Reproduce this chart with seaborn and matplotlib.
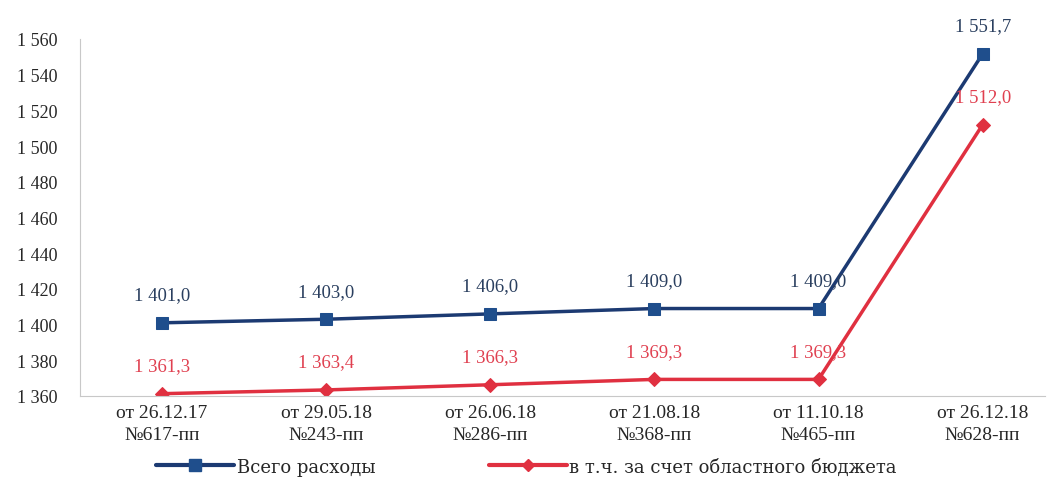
import matplotlib
matplotlib.use("Agg")
import matplotlib.pyplot as plt
import seaborn as sns
import pandas as pd

categories = ["от 26.12.17\n№617-пп", "от 29.05.18\n№243-пп", "от 26.06.18\n№286-пп",
              "от 21.08.18\n№368-пп", "от 11.10.18\n№465-пп", "от 26.12.18\n№628-пп"]
total = [1401.0, 1403.0, 1406.0, 1409.0, 1409.0, 1551.7]
regional = [1361.3, 1363.4, 1366.3, 1369.3, 1369.3, 1512.0]
series_names = ["Всего расходы", "в т.ч. за счет областного бюджета"]
yticks = [1360, 1380, 1400, 1420, 1440, 1460, 1480, 1500, 1520, 1540, 1560]

sns.set_style("white")
plt.rcParams['font.family'] = ['Liberation Serif', 'DejaVu Serif']

df = pd.DataFrame({
    "x": list(range(len(categories))) * 2,
    "value": total + regional,
    "series": [series_names[0]] * len(total) + [series_names[1]] * len(regional),
})

blue = "#1c3a72"
red = "#e03040"
fig = plt.figure(figsize=(10.51, 4.81), dpi=100)
ax = fig.add_axes([80 / 1051, 1 - 397 / 481, 965 / 1051, 357 / 481])
sns.lineplot(data=df, x="x", y="value", hue="series", style="series",
             markers={series_names[0]: "s", series_names[1]: "D"}, dashes=False,
             palette={series_names[0]: blue, series_names[1]: red},
             linewidth=2.5, markersize=9, ax=ax, legend=False)
for line, mc in zip(ax.lines, ["#1f4e8c", red]):
    line.set_markerfacecolor(mc)
    line.set_markeredgecolor(mc)
ax.lines[1].set_markersize(7)

def fmt(v):
    s = f"{v:,.1f}".replace(",", " ").replace(".", ",")
    return s

for i, v in enumerate(total):
    ax.annotate(fmt(v), (i, v), xytext=(0, 14), textcoords="offset points",
                ha="center", va="bottom", fontsize=13.5, color="#2a3f5f")
for i, v in enumerate(regional):
    ax.annotate(fmt(v), (i, v), xytext=(0, 14), textcoords="offset points",
                ha="center", va="bottom", fontsize=13.5, color="#e04050")

ax.set_xlim(-0.5, 5.38)
ax.set_ylim(1360, 1560)
ax.set_yticks(yticks)
ax.set_yticklabels([f"{t:,}".replace(",", " ") for t in yticks], fontsize=13)
ax.set_xticks(range(len(categories)))
ax.set_xticklabels(categories, fontsize=14, linespacing=1.35)
ax.set_xlabel("")
ax.set_ylabel("")
ax.tick_params(axis="y", length=0, pad=16)
ax.tick_params(axis="x", length=0, pad=6)
for s in ["top", "right"]:
    ax.spines[s].set_visible(False)
ax.spines["left"].set_color("#c8c8c8")
ax.spines["bottom"].set_color("#c8c8c8")

from matplotlib.lines import Line2D
handles = [Line2D([], [], color=blue, marker="s", markersize=9, markerfacecolor="#1f4e8c",
                  markeredgecolor="#1f4e8c", linewidth=3),
           Line2D([], [], color=red, marker="D", markersize=6, linewidth=3)]
fig.legend(handles, series_names, loc="lower left", bbox_to_anchor=(140 / 1051, -0.025),
           ncol=2, frameon=False, handlelength=4.3, handletextpad=0.15,
           columnspacing=6.3, prop={"family": ["DejaVu Serif"], "size": 13})

fig.savefig("out.png", dpi=100)
